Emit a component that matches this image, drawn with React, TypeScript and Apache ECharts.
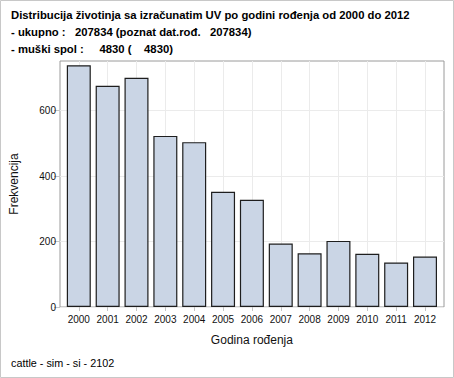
import React, { useEffect, useRef } from "react";
import * as echarts from "echarts";

const years = [2000, 2001, 2002, 2003, 2004, 2005, 2006, 2007, 2008, 2009, 2010, 2011, 2012];
const counts = [739, 676, 701, 523, 504, 352, 328, 194, 164, 202, 163, 136, 154];
const yTicks = [0, 200, 400, 600];
const titleLines = [
  "Distribucija životinja sa izračunatim UV po godini rođenja od 2000 do 2012",
  "- ukupno :   207834 (poznat dat.rođ.   207834)",
  "- muški spol :     4830 (    4830)",
];
const xTitle = "Godina rođenja";
const yTitle = "Frekvencija";
const footnote = "cattle - sim - si - 2102";

const FONT = "'Liberation Sans', Arial, sans-serif";

export default function App() {
  const ref = useRef<HTMLDivElement>(null);
  useEffect(() => {
    if (!ref.current) return;
    const chart = echarts.init(ref.current, null, { renderer: "svg" });
    const yMax = 752;
    const titleY = [15, 32, 49];
    chart.setOption({
      animation: false,
      textStyle: { fontFamily: FONT },
      grid: [
        { left: 60, right: 10, top: 61, bottom: 71, show: true, borderColor: "#9a9a9a", borderWidth: 1, backgroundColor: "transparent", containLabel: false },
        { left: 78.8, right: 29, top: 61, bottom: 71, containLabel: false },
      ],
      xAxis: [
        { gridIndex: 0, type: "value", min: 0, max: 1, show: false },
        {
          gridIndex: 1,
          type: "value",
          min: years[0],
          max: years[years.length - 1],
          interval: 1,
          axisLine: { show: false },
          axisTick: { show: true, length: 4, lineStyle: { color: "#c4c4c4" } },
          axisLabel: { margin: 7, fontSize: 10, color: "#111", fontFamily: FONT, formatter: (v: number) => String(v) },
          splitLine: { show: true, lineStyle: { color: "#ebebeb", width: 1 } },
          name: xTitle,
          nameLocation: "middle",
          nameGap: 27,
          nameTextStyle: { fontSize: 12, color: "#111", fontFamily: FONT },
        },
      ],
      yAxis: [
        {
          gridIndex: 0,
          type: "value",
          min: 0,
          max: yMax,
          interval: 200,
          axisLine: { show: false },
          axisTick: { show: true, length: 6, customValues: yTicks, lineStyle: { color: "#c4c4c4" } },
          axisLabel: { margin: 4, fontSize: 10, color: "#111", fontFamily: FONT, customValues: yTicks },
          splitLine: { show: true, lineStyle: { color: "#ebebeb", width: 1 } },
          name: yTitle,
          nameLocation: "middle",
          nameGap: 40,
          nameTextStyle: { fontSize: 12, color: "#111", fontFamily: FONT },
        },
        { gridIndex: 1, type: "value", min: 0, max: yMax, show: false, splitLine: { show: false } },
      ],
      series: [
        {
          type: "bar",
          xAxisIndex: 1,
          yAxisIndex: 1,
          clip: false,
          barWidth: 24,
          data: years.map((y, i) => [y, counts[i]]),
          itemStyle: { color: "#cad5e5", borderColor: "#1e1e1e", borderWidth: 1.2 },
        },
      ],
      graphic: [
        { type: "rect", shape: { x: 0.5, y: 0.5, width: 453, height: 377 }, style: { fill: "none", stroke: "#c8c8c8", lineWidth: 1 }, silent: true },
        ...titleLines.map((t, i) => ({
          type: "text",
          x: 11,
          y: titleY[i],
          style: { text: t, fill: "#000", font: `bold 11.3px ${FONT}`, align: "left", verticalAlign: "middle", textAlign: "left", textVerticalAlign: "middle" },
        })),
        {
          type: "text",
          x: 11,
          y: 363,
          style: { text: footnote, fill: "#000", font: `10.8px ${FONT}`, align: "left", verticalAlign: "middle", textAlign: "left", textVerticalAlign: "middle" },
        },
      ],
    });
    return () => chart.dispose();
  }, []);
  return (
    <div
      ref={ref}
      style={{ position: "fixed", left: 0, top: 0, width: 454, height: 378, whiteSpace: "pre", background: "#fff" }}
    />
  );
}
